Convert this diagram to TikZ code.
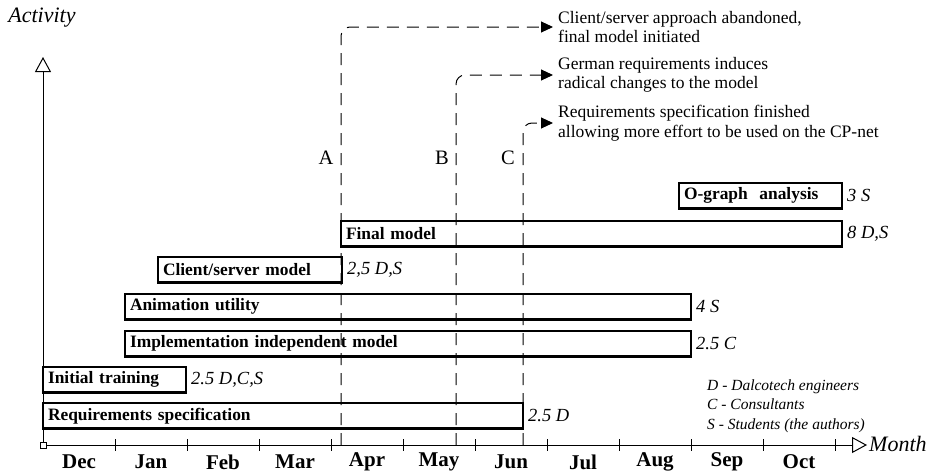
\documentclass[tikz,border=0pt]{standalone}
\usepackage{fontspec}
\setmainfont{Liberation Serif}
\usetikzlibrary{arrows.meta}
\begin{document}
\begin{tikzpicture}[x=1pt,y=-1pt,
  bar/.style={draw, line width=2.7pt, minimum height=25.5pt, inner xsep=5pt,
    inner ysep=0pt, outer sep=0pt, anchor=north west, align=left,
    font=\fontsize{17.4}{20}\selectfont\bfseries},
  dur/.style={anchor=west, inner sep=0pt, font=\fontsize{18.5}{21}\selectfont\itshape},
  note/.style={anchor=west, inner xsep=5pt, inner ysep=0pt, align=left,
    font=\fontsize{17.5}{19.5}\selectfont},
  milestone/.style={font=\fontsize{20.5}{24}\selectfont, inner sep=0pt},
  month/.style={font=\fontsize{21}{24}\selectfont\bfseries, inner sep=0pt},
  axislabel/.style={font=\fontsize{22}{26}\selectfont\itshape, inner sep=0pt},
  axis/.style={line width=1pt, -{Triangle[open, length=15pt, width=16pt]}},
  conn/.style={line width=1pt, dash pattern=on 12pt off 8pt, rounded corners=9pt,
    -{Triangle[length=12pt, width=11pt]}},
]
\useasboundingbox (0,0) rectangle (933,474);

% axes
\node[draw, line width=0.9pt, minimum size=6pt, inner sep=0pt, outer sep=0pt] (o) at (43,445) {};
\coordinate (ytop) at (43,57);
\coordinate (xend) at (867,445);
\draw[axis] (o.north) -- (ytop);
\draw[axis] (o.east) -- (xend);
\node[axislabel] (act) at (42,18) {Activity};
\node[axislabel, anchor=west] (mon) at (869,444) {Month};

% month ticks and labels
\foreach \t in {115,187,...,835} \draw[line width=1pt] (\t,439) -- (\t,451);
\foreach \m [count=\i from 0] in {Dec,Jan,Feb,Mar,Apr,May,Jun,Jul,Aug,Sep,Oct}
  \node[month] (m\i) at (79+72*\i,462) {\m};

% activity bars with their staffing
\node[bar, text width=470pt] (req) at (43,403) {Requirements specification};
\node[dur] (reqd) at ([xshift=5pt]req.east) {2.5 D};
\node[bar, text width=133pt] (init) at (43,367) {Initial training};
\node[dur] (initd) at ([xshift=5pt]init.east) {2.5 D,C,S};
\node[bar, text width=556pt] (impl) at (125,331) {Implementation independent model};
\node[dur] (impld) at ([xshift=5pt]impl.east) {2.5 C};
\node[bar, text width=556pt] (anim) at (125,294) {Animation utility};
\node[dur] (animd) at ([xshift=5pt]anim.east) {4 S};
\node[bar, text width=174pt] (cs) at (158,257) {Client/server model};
\node[dur] (csd) at ([xshift=5pt]cs.east) {2,5 D,S};
\node[bar, text width=491pt] (final) at (341,221) {Final model};
\node[dur] (finald) at ([xshift=5pt]final.east) {8 D,S};
\node[bar, text width=153pt] (og) at (679,183) {O-graph\ \ analysis};
\node[dur] (ogd) at ([xshift=5pt]og.east) {3 S};

% milestones
\node[note] (nA) at (553,27) {Client/server approach abandoned,\\final model initiated};
\node[note] (nB) at (553,75) {German requirements induces\\radical changes to the model};
\node[note] (nC) at (553,123) {Requirements specification finished\\allowing more effort to be used on the CP-net};
\coordinate (baseA) at (341,445);
\coordinate (baseB) at (456,445);
\coordinate (baseC) at (523,445);
\draw[conn] (baseA) |- (nA.west);
\draw[conn] (baseB) |- (nB.west);
\draw[conn] (baseC) |- (nC.west);
\node[milestone] (la) at (326,158) {A};
\node[milestone] (lb) at (442,158) {B};
\node[milestone] (lc) at (508,158) {C};

% legend
\node[anchor=west, inner sep=0pt, align=left, font=\fontsize{15.5}{19.5}\selectfont\itshape]
  (legend) at (707,406) {D - Dalcotech engineers\\C - Consultants\\S - Students (the authors)};
\end{tikzpicture}
\end{document}
